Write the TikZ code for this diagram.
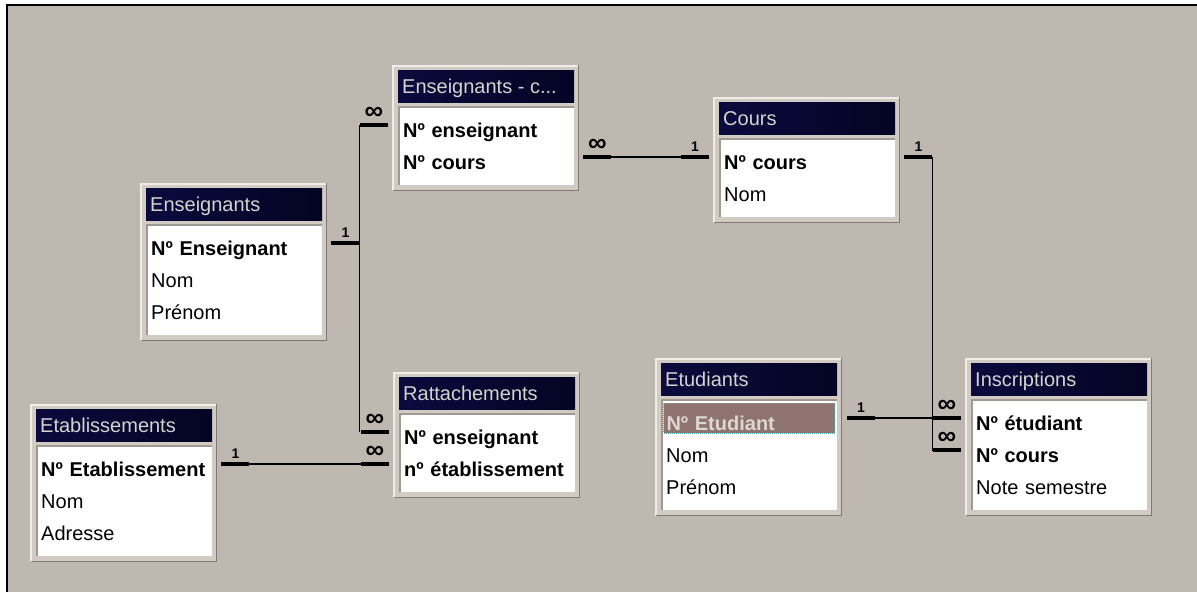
\documentclass[tikz,border=0pt]{standalone}
\usepackage{fontspec}
\setmainfont{Liberation Sans}

\definecolor{canvas}{RGB}{191,184,177}
\definecolor{frameface}{RGB}{210,203,196}
\definecolor{framelight}{RGB}{240,236,232}
\definecolor{framedark}{RGB}{128,120,114}
\definecolor{titleA}{RGB}{10,10,62}
\definecolor{titleB}{RGB}{4,4,36}
\definecolor{titletext}{RGB}{214,210,206}
\definecolor{bodydark}{RGB}{160,152,146}
\definecolor{selfill}{RGB}{142,115,111}
\definecolor{seltext}{RGB}{222,214,210}
\definecolor{seldots}{RGB}{60,180,180}

\tikzset{
  field/.style={anchor=west, text width=165pt, inner xsep=3pt, inner ysep=3pt,
    text height=24pt, text depth=0pt, align=left, font=\fontsize{20}{22}\selectfont},
  keyfield/.style={field, font=\fontsize{20}{22}\selectfont\bfseries},
  selfield/.style={keyfield, fill=selfill, text=seltext, draw=seldots, densely dotted, line width=1pt},
  tabtitle/.style={anchor=base west, text=titletext, inner sep=0pt, font=\fontsize{20}{22}\selectfont},
  rel/.style={line width=1.6pt},
  stub/.style={line width=4.5pt},
  card/.style={above=2pt, inner sep=1pt, font=\fontsize{14}{14}\selectfont\bfseries},
  many/.style={card, above=0pt, font=\fontsize{26}{26}\selectfont\bfseries},
}

% table frame: name, x, y, rows, title
\newcommand{\acctable}[5]{%
  \pgfmathsetmacro{\tabh}{94+32*(#4-1)}
  \fill[frameface] (#2,#3) rectangle ++(187,\tabh);
  \draw[framelight, line width=1.5pt] (#2+0.75,#3+\tabh) |- (#2+187,#3+0.75);
  \draw[framedark, line width=1.5pt] (#2+0.75,#3+\tabh-0.75) -| (#2+186.25,#3);
  \shade[left color=titleA, right color=titleB] (#2+6,#3+5) rectangle (#2+182,#3+37);
  \node[tabtitle] (#1) at (#2+10,#3+28) {#5};
  \fill[white] (#2+6,#3+41) rectangle (#2+182,#3+\tabh-6);
  \draw[bodydark, line width=1.5pt] (#2+6.75,#3+\tabh-6) |- (#2+182,#3+41.75);
}

\begin{document}
\begin{tikzpicture}[x=1pt,y=-1pt]
  \useasboundingbox (0,0) rectangle (1197,592);
  % window background
  \fill[white] (0,0) rectangle (1197,592);
  \fill[canvas] (7,5) rectangle (1197,592);
  \draw[line width=2pt] (7,592) -- (7,5) -- (1197,5);

  % tables
  \acctable{ensc}{392}{65}{2}{Enseignants - c...}
  \node[keyfield] (ensc-num) at (400,125) {Nº enseignant};
  \node[keyfield] (ensc-crs) at (400,157) {Nº cours};

  \acctable{crs}{713}{97}{2}{Cours}
  \node[keyfield] (crs-num) at (721,157) {Nº cours};
  \node[field] (crs-nom) at (721,189) {Nom};

  \acctable{ens}{140}{183}{3}{Enseignants}
  \node[keyfield] (ens-num) at (148,243) {Nº Enseignant};
  \node[field] (ens-nom) at (148,275) {Nom};
  \node[field] (ens-pre) at (148,307) {Prénom};

  \acctable{rat}{393}{372}{2}{Rattachements}
  \node[keyfield] (rat-ens) at (401,432) {Nº enseignant};
  \node[keyfield] (rat-eta) at (401,464) {nº établissement};

  \acctable{eta}{30}{404}{3}{Etablissements}
  \node[keyfield] (eta-num) at (38,464) {Nº Etablissement};
  \node[field] (eta-nom) at (38,496) {Nom};
  \node[field] (eta-adr) at (38,528) {Adresse};

  \acctable{etu}{655}{358}{3}{Etudiants}
  \node[selfield] (etu-num) at (663,418) {Nº Etudiant};
  \node[field] (etu-nom) at (663,450) {Nom};
  \node[field] (etu-pre) at (663,482) {Prénom};

  \acctable{ins}{965}{358}{3}{Inscriptions}
  \node[keyfield] (ins-etu) at (973,418) {Nº étudiant};
  \node[keyfield] (ins-crs) at (973,450) {Nº cours};
  \node[field] (ins-not) at (973,482) {Note semestre};

  % Enseignants -> Enseignants - cours, Rattachements
  \draw[stub] ([xshift=12pt]ens-num.east) -- ++(28,0) node[card, midway] {1} coordinate (ens-j);
  \draw[rel] (ens-j |- ensc-num.west) -- (ens-j |- rat-ens.west);
  \draw[stub] ([xshift=-12pt]ensc-num.west) -- ++(-28,0) node[many, midway] {∞};
  \draw[stub] ([xshift=-12pt]rat-ens.west) -- ++(-28,0) node[many, midway] {∞};

  % Enseignants - cours -> Cours
  \draw[stub] ([xshift=12pt]ensc-crs.east) -- ++(28,0) node[many, midway] {∞} coordinate (ensc-j);
  \draw[stub] ([xshift=-12pt]crs-num.west) -- ++(-28,0) node[card, midway] {1} coordinate (crs-j);
  \draw[rel] (ensc-j) -- (crs-j);

  % Cours -> Inscriptions
  \draw[stub] ([xshift=12pt]crs-num.east) -- ++(28,0) node[card, midway] {1} coordinate (crs-k);
  \draw[stub] ([xshift=-12pt]ins-crs.west) -- ++(-28,0) node[many, midway] {∞} coordinate (ins-k);
  \draw[rel] (crs-k) -- (crs-k |- ins-k) -- (ins-k);

  % Etudiants -> Inscriptions
  \draw[stub] ([xshift=12pt]etu-num.east) -- ++(28,0) node[card, midway] {1} coordinate (etu-j);
  \draw[stub] ([xshift=-12pt]ins-etu.west) -- ++(-28,0) node[many, midway] {∞} coordinate (ins-j);
  \draw[rel] (etu-j) -- (ins-j);

  % Etablissements -> Rattachements
  \draw[stub] ([xshift=12pt]eta-num.east) -- ++(28,0) node[card, midway] {1} coordinate (eta-j);
  \draw[stub] ([xshift=-12pt]rat-eta.west) -- ++(-28,0) node[many, midway] {∞} coordinate (rat-j);
  \draw[rel] (eta-j) -- (rat-j);
\end{tikzpicture}
\end{document}
